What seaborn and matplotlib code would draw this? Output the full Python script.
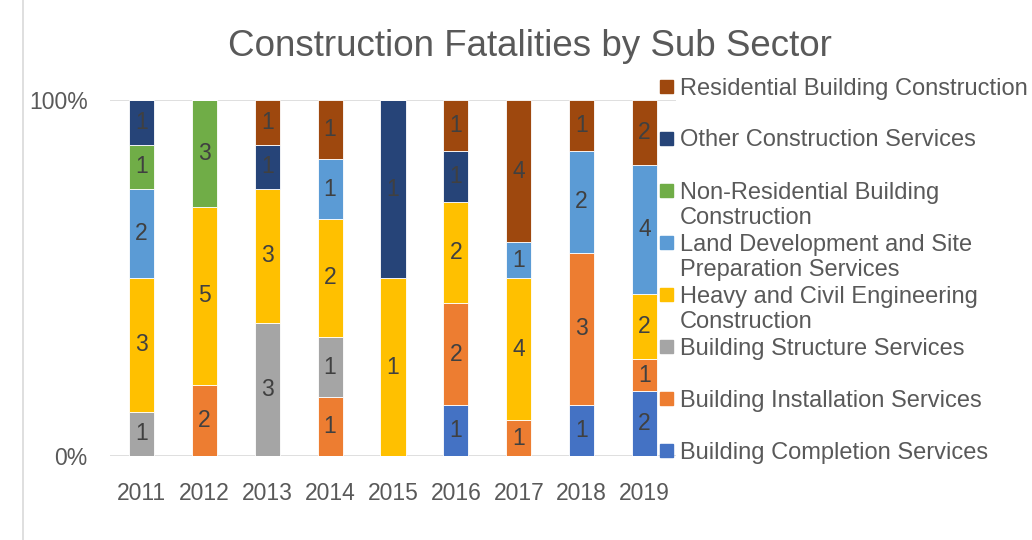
import matplotlib
matplotlib.use("Agg")
import matplotlib.pyplot as plt
import matplotlib.colors as mcolors
from matplotlib.patches import Rectangle
from matplotlib.lines import Line2D
import pandas as pd
import seaborn as sns

years = [2011, 2012, 2013, 2014, 2015, 2016, 2017, 2018, 2019]

# sub sectors, bottom of the stack first
sectors = [
    "Building Completion Services",
    "Building Installation Services",
    "Building Structure Services",
    "Heavy and Civil Engineering Construction",
    "Land Development and Site Preparation Services",
    "Non-Residential Building Construction",
    "Other Construction Services",
    "Residential Building Construction",
]
legend_labels = [
    "Building Completion Services",
    "Building Installation Services",
    "Building Structure Services",
    "Heavy and Civil Engineering\nConstruction",
    "Land Development and Site\nPreparation Services",
    "Non-Residential Building\nConstruction",
    "Other Construction Services",
    "Residential Building Construction",
]
colors = ["#4472C4", "#ED7D31", "#A5A5A5", "#FFC000",
          "#5B9BD5", "#70AD47", "#264478", "#9E480E"]

# fatalities per year
completion = [0, 0, 0, 0, 0, 1, 0, 1, 2]
installation = [0, 2, 0, 1, 0, 2, 1, 3, 1]
structure = [1, 0, 3, 1, 0, 0, 0, 0, 0]
heavy = [3, 5, 3, 2, 1, 2, 4, 0, 2]
land = [2, 0, 0, 1, 0, 0, 1, 2, 4]
nonres = [1, 3, 0, 0, 0, 0, 0, 0, 0]
other = [1, 0, 1, 0, 1, 1, 0, 0, 0]
residential = [0, 0, 1, 1, 0, 1, 4, 1, 2]

counts = [completion, installation, structure, heavy, land, nonres, other, residential]

rows = []
for sector, vals in zip(sectors, counts):
    for y, v in zip(years, vals):
        rows.append({"year": y, "sector": sector, "count": v})
df = pd.DataFrame(rows)

sns.set_theme(style="white")
plt.rcParams['font.family'] = ['Liberation Sans', 'DejaVu Sans']
text_col = "#595959"

fig = plt.figure(figsize=(10.32, 5.4), dpi=100)
ax = fig.add_axes([110 / 1032, 84 / 540, 566 / 1032, 356 / 540])

palette = dict(zip(sectors, colors))
# seaborn stacks the last hue level at the bottom
sns.histplot(data=df, x="year", hue="sector", weights="count", multiple="fill",
             discrete=True, shrink=0.4, hue_order=sectors[::-1], palette=palette,
             alpha=1, edgecolor="white", linewidth=0.6, legend=False, ax=ax)

# value labels in the middle of each segment
for cont in ax.containers:
    fc = cont.patches[0].get_facecolor()
    for sector, color, vals in zip(sectors, colors, counts):
        if mcolors.same_color(fc, color):
            labels = [str(v) if v else "" for v in vals]
            ax.bar_label(cont, labels=labels, label_type="center",
                         fontsize=16.5, color="#404040")

ax.set_xlim(years[0] - 0.5, years[-1] + 0.5)
ax.set_ylim(0, 1)
ax.set_xticks(years)
ax.set_yticks([0, 1])
ax.set_yticklabels(["0%", "100%"])
ax.set_xlabel("")
ax.set_ylabel("")
ax.tick_params(axis="both", length=0, labelsize=16.5, labelcolor=text_col)
ax.tick_params(axis="x", pad=19)
ax.tick_params(axis="y", pad=16)
for s in ax.spines.values():
    s.set_visible(False)
ax.yaxis.grid(True, color="#D9D9D9", linewidth=1.2)
ax.set_axisbelow(True)

fig.text(530 / 1032, 1 - 46 / 540, "Construction Fatalities by Sub Sector",
         ha="center", va="center", fontsize=26.5, color=text_col)

# legend, top entry first; wrapped lines placed one by one
for i, (lab, col) in enumerate(zip(legend_labels[::-1], colors[::-1])):
    ypix = 86 + 52 * i
    fig.patches.append(Rectangle((660 / 1032, 1 - (ypix + 7) / 540), 13 / 1032, 13 / 540,
                                 transform=fig.transFigure, color=col))
    for k, line in enumerate(lab.split("\n")):
        fig.text(680 / 1032, 1 - (ypix + 26 * k) / 540, line, va="center_baseline",
                 ha="left", fontsize=17, color=text_col)

# chart frame edge
fig.lines.append(Line2D([23 / 1032, 23 / 1032], [0, 1], transform=fig.transFigure,
                        color="#D9D9D9", linewidth=1.2))

fig.savefig("out.png", dpi=100)
